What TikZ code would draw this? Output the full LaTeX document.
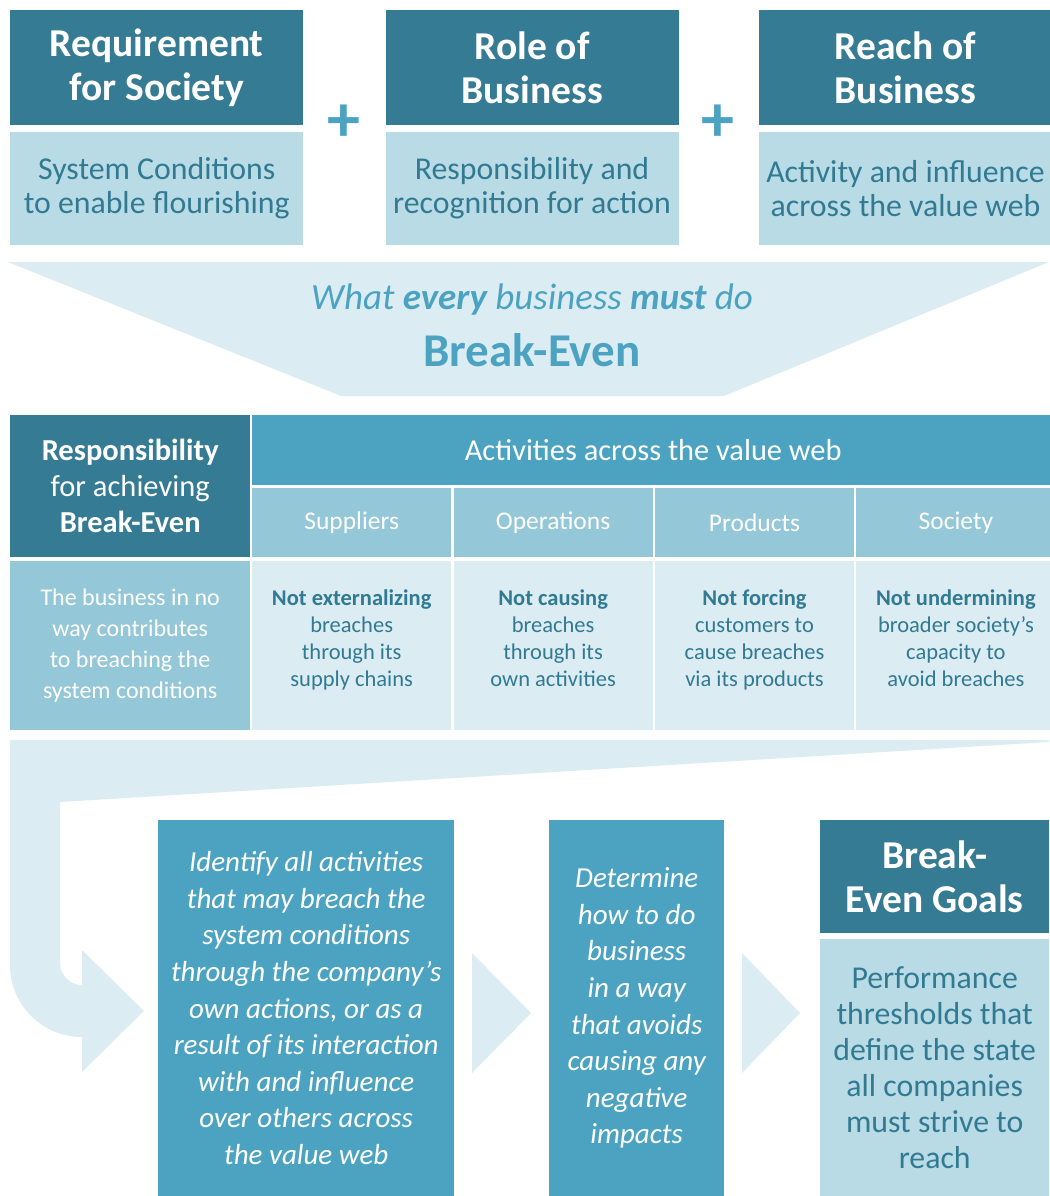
\documentclass[tikz,border=0pt]{standalone}
\usepackage{fontspec}
\setmainfont{Carlito}
\usetikzlibrary{positioning}
\definecolor{darkteal}{HTML}{357B93}
\definecolor{midteal}{HTML}{4CA3C1}
\definecolor{softteal}{HTML}{94C7D8}
\definecolor{paleteal}{HTML}{B8DBE6}
\definecolor{mistteal}{HTML}{DBECF3}
\definecolor{inkteal}{HTML}{317A92}
\begin{document}
\begin{tikzpicture}[x=1pt,y=-1pt,
    head/.style={rectangle,fill=darkteal,text=white,align=center,inner sep=0pt,
      minimum width=293pt,minimum height=115pt,font=\bfseries\fontsize{39.5}{44}\selectfont},
    desc/.style={rectangle,fill=paleteal,text=inkteal,align=center,inner sep=0pt,
      minimum width=293pt,minimum height=113pt,font=\fontsize{31.8}{34}\selectfont},
    plus/.style={text=midteal,inner sep=0pt,font=\bfseries\fontsize{66}{66}\selectfont},
    resp/.style={rectangle,fill=darkteal,text=white,align=center,inner sep=0pt,
      minimum width=240pt,minimum height=142pt,font=\fontsize{30.5}{36}\selectfont},
    respbody/.style={rectangle,fill=softteal,text=white,align=center,inner sep=0pt,
      minimum width=240pt,minimum height=169pt,font=\fontsize{24}{31}\selectfont},
    acts/.style={rectangle,fill=midteal,text=white,align=center,inner sep=0pt,
      minimum width=802pt,minimum height=70pt,font=\fontsize{30.4}{34}\selectfont},
    sub/.style={rectangle,fill=softteal,text=white,align=center,inner sep=0pt,
      minimum width=199pt,minimum height=69pt,font=\fontsize{25.5}{30}\selectfont},
    cell/.style={rectangle,fill=mistteal,text=inkteal,align=center,inner sep=0pt,
      minimum width=199pt,minimum height=169pt,text depth=14pt,
      font=\fontsize{22.5}{27.3}\selectfont},
    stagebox/.style={rectangle,fill=midteal,text=white,align=center,inner sep=0pt,
      minimum height=376pt,font=\itshape\fontsize{29}{36.6}\selectfont},
    band/.style={fill=mistteal}]
  \useasboundingbox (0,0) rectangle (1049,1196);
  % top row
  \node[head,anchor=north west] (reqhead) at (10,10) {Requirement\\for Society};
  \node[desc,below=6pt of reqhead] (reqdesc) {System Conditions\\to enable flourishing};
  \node[head,right=82pt of reqhead] (rolehead) {Role of\\Business};
  \node[desc,below=6pt of rolehead] (roledesc) {Responsibility and\\recognition for action};
  \node[head,right=80pt of rolehead] (reachhead) {Reach of\\Business};
  \node[desc,below=6pt of reachhead] (reachdesc) {Activity and influence\\across the value web};
  \node[plus] (plusa) at (344,123) {+};
  \node[plus] (plusb) at (718,123) {+};
  % funnel
  \fill[band] (8,262) -- (1049,262) -- (724,396) -- (341,396) -- cycle;
  \node[text=midteal,font=\itshape\fontsize{37}{42}\selectfont] (what) at (532,300)
    {What \textbf{every} business \textbf{must} do};
  \node[text=midteal,font=\bfseries\fontsize{47}{50}\selectfont] (breakeven) at (532,350) {Break-Even};
  % table
  \node[resp,anchor=north west] (resphead) at (10,415)
    {\textbf{Responsibility}\\for achieving\\\textbf{Break-Even}};
  \node[respbody,below=3pt of resphead] (respcell)
    {The business in no\\way contributes\\to breaching the\\system conditions};
  \node[acts,anchor=north west] (acthead) at (252,415) {Activities across the value web};
  \node[sub,anchor=north west] (supp) at (252,488) {Suppliers};
  \node[sub,right=2pt of supp] (oper) {Operations};
  \node[sub,right=2pt of oper] (prod) {Products};
  \node[sub,right=2pt of prod] (soc) {Society};
  \node[cell,below=3pt of supp] (suppcell)
    {\textbf{Not externalizing}\\breaches\\through its\\supply chains};
  \node[cell,below=3pt of oper] (opercell)
    {\textbf{Not causing}\\breaches\\through its\\own activities};
  \node[cell,below=3pt of prod] (prodcell)
    {\textbf{Not forcing}\\customers to\\cause breaches\\via its products};
  \node[cell,below=3pt of soc] (soccell)
    {\textbf{Not undermining}\\broader society’s\\capacity to\\avoid breaches};
  % bottom flow
  \fill[band] (10,740) -- (1049,740) -- (1049,742) -- (60,802) -- (60,963)
    arc[start angle=180,end angle=90,radius=22] -- (82,950) -- (144,1011)
    -- (82,1072) -- (82,1037) arc[start angle=90,end angle=180,radius=72] -- cycle;
  \node[stagebox,minimum width=296pt,anchor=north west] (identify) at (158,820)
    {Identify all activities\\that may breach the\\system conditions\\through the company’s\\own actions, or as a\\result of its interaction\\with and influence\\over others across\\the value web};
  \node[stagebox,minimum width=175pt,anchor=north west] (determine) at (549,820)
    {Determine\\how to do\\business\\in a way\\that avoids\\causing any\\negative\\impacts};
  \node[head,minimum width=229pt,minimum height=113pt,anchor=north west] (goalhead) at (820,820)
    {Break-\\Even Goals};
  \node[desc,minimum width=229pt,minimum height=258pt,below=5pt of goalhead,
    font=\fontsize{31.8}{36}\selectfont] (goaldesc)
    {Performance\\thresholds that\\define the state\\all companies\\must strive to\\reach};
  \fill[band] (472,953) -- (531,1013) -- (472,1073) -- cycle;
  \fill[band] (742,953) -- (800,1013) -- (742,1073) -- cycle;
\end{tikzpicture}
\end{document}
